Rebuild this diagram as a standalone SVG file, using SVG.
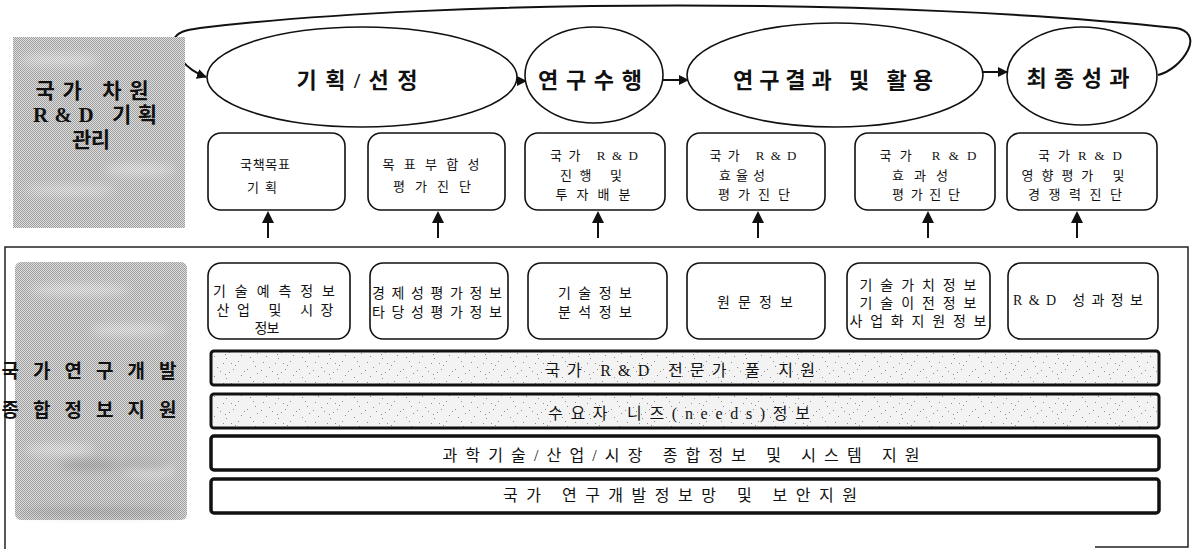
<svg xmlns="http://www.w3.org/2000/svg" width="1194" height="549" viewBox="0 0 1194 549">
<style>
.t{font-family:'Liberation Serif','Noto Sans CJK KR',serif;fill:#111;text-anchor:middle}
.title{font-size:22px;font-weight:bold}
.lab{font-size:21px;font-weight:bold}
.box{fill:#fff;stroke:#111;stroke-width:1.6}
.bt{font-size:13px}
.lt{font-size:14px}
.bar{font-size:16px}
.ell{fill:#fff;stroke:#111;stroke-width:1.6}
.con{fill:none;stroke:#111;stroke-width:2}
</style>
<defs>
<marker id="ah" viewBox="0 0 10 10" refX="9" refY="5" markerWidth="10" markerHeight="10" markerUnits="userSpaceOnUse" orient="auto">
<path d="M0,0 L10,5 L0,10 Z" fill="#111"/>
</marker>
<marker id="up" viewBox="0 0 12 12" refX="10" refY="6" markerWidth="12" markerHeight="12" markerUnits="userSpaceOnUse" orient="auto">
<path d="M0,0 L12,6 L0,12 Z" fill="#111"/>
</marker>
<pattern id="ht" width="2" height="2" patternUnits="userSpaceOnUse">
<rect width="2" height="2" fill="#dedede"/>
<rect width="1" height="1" fill="#9e9e9e"/>
<rect x="1" y="1" width="1" height="1" fill="#9e9e9e"/>
</pattern>
<pattern id="st" width="52" height="20" patternUnits="userSpaceOnUse">
<rect width="52" height="20" fill="#f3f3f3"/>
<g fill="#8c8c8c">
<rect x="3" y="2" width="1" height="1"/><rect x="9" y="7" width="1" height="1"/><rect x="15" y="3" width="1" height="1"/>
<rect x="21" y="12" width="1" height="1"/><rect x="27" y="5" width="1" height="1"/><rect x="33" y="15" width="1" height="1"/>
<rect x="39" y="9" width="1" height="1"/><rect x="45" y="1" width="1" height="1"/><rect x="49" y="13" width="1" height="1"/>
<rect x="6" y="16" width="1" height="1"/><rect x="12" y="11" width="1" height="1"/><rect x="18" y="18" width="1" height="1"/>
<rect x="25" y="9" width="1" height="1"/><rect x="30" y="1" width="1" height="1"/><rect x="36" y="11" width="1" height="1"/>
<rect x="42" y="17" width="1" height="1"/><rect x="47" y="6" width="1" height="1"/><rect x="1" y="10" width="1" height="1"/>
<rect x="17" y="14" width="1" height="1"/><rect x="23" y="3" width="1" height="1"/>
</g>
</pattern>
<filter id="bl" x="-20%" y="-50%" width="140%" height="200%"><feGaussianBlur stdDeviation="4"/></filter>
</defs>

<g id="connectors">
<path class="con" d="M174,40 C172,52 186,70 206,77" marker-end="url(#ah)"/>
<path class="con" d="M1158,75 C1170,72 1182,62 1188,50 C1194,38 1188,30 1176,28 C900,-2 450,-2 200,28 C186,30 176,32 174,40"/>
<path class="con" d="M493,81 L526,81" marker-end="url(#ah)"/>
<path class="con" d="M663,80 L688,80" marker-end="url(#ah)"/>
<path class="con" d="M983,72 L1007,72" marker-end="url(#ah)"/>
<path class="con" stroke-width="3" d="M268,238 L268,213" marker-end="url(#up)"/>
<path class="con" stroke-width="3" d="M438,238 L438,213" marker-end="url(#up)"/>
<path class="con" stroke-width="3" d="M598,238 L598,213" marker-end="url(#up)"/>
<path class="con" stroke-width="3" d="M758,238 L758,213" marker-end="url(#up)"/>
<path class="con" stroke-width="3" d="M928,238 L928,213" marker-end="url(#up)"/>
<path class="con" stroke-width="3" d="M1077,238 L1077,213" marker-end="url(#up)"/>
</g>

<g id="outer-frame">
<path d="M5,549 L5,247 L1188,247 L1188,547 L1095,547" fill="none" stroke="#222" stroke-width="1.5"/>
</g>

<g id="label-planning">
<rect x="13" y="37" width="172" height="191" fill="url(#ht)"/>
<g filter="url(#bl)" fill="#fff" opacity="0.35">
<ellipse cx="60" cy="60" rx="40" ry="6"/><ellipse cx="140" cy="170" rx="35" ry="6"/><ellipse cx="70" cy="190" rx="45" ry="5"/>
</g>
<text class="t lab" x="92" y="98" textLength="113" lengthAdjust="spacing">국가 차원</text>
<text class="t lab" x="95" y="122" textLength="124" lengthAdjust="spacing">R&amp;D 기획</text>
<text class="t lab" x="91" y="147" textLength="38" lengthAdjust="spacing">관리</text>
</g>

<g id="label-info">
<rect x="15" y="262" width="172" height="258" rx="6" fill="url(#ht)"/>
<g filter="url(#bl)" fill="#fff" opacity="0.35">
<ellipse cx="80" cy="290" rx="50" ry="6"/><ellipse cx="130" cy="330" rx="40" ry="6"/><ellipse cx="60" cy="450" rx="35" ry="6"/><ellipse cx="150" cy="470" rx="25" ry="8"/>
</g>
<g filter="url(#bl)" fill="#666" opacity="0.3">
<ellipse cx="90" cy="465" rx="30" ry="5"/><ellipse cx="145" cy="465" rx="25" ry="5"/><ellipse cx="100" cy="512" rx="80" ry="4"/>
</g>
<text class="t lab" style="font-size:19px" x="89" y="378" textLength="175" lengthAdjust="spacing">국가연구개발</text>
<text class="t lab" style="font-size:19px" x="89" y="417" textLength="175" lengthAdjust="spacing">종합정보지원</text>
</g>

<g id="stage-plan">
<ellipse class="ell" cx="362" cy="77" rx="155" ry="50"/>
<text class="t title" x="357" y="88" textLength="121" lengthAdjust="spacing">기획/선정</text>
</g>
<g id="stage-research">
<ellipse class="ell" cx="594" cy="75" rx="69" ry="48"/>
<text class="t title" x="590" y="88" textLength="104" lengthAdjust="spacing">연구수행</text>
</g>
<g id="stage-result">
<ellipse class="ell" cx="835" cy="75" rx="148" ry="52"/>
<text class="t title" x="833" y="88" textLength="200" lengthAdjust="spacing">연구결과 및 활용</text>
</g>
<g id="stage-final">
<ellipse class="ell" cx="1082" cy="76" rx="75" ry="49"/>
<text class="t title" x="1078" y="86" textLength="103" lengthAdjust="spacing">최종성과</text>
</g>

<g id="top-box-1">
<rect class="box" x="208" y="133" width="137" height="77" rx="13"/>
<text class="t bt" x="265" y="169" textLength="50" lengthAdjust="spacing">국책목표</text>
<text class="t bt" x="262" y="192" textLength="30" lengthAdjust="spacing">기획</text>
</g>
<g id="top-box-2">
<rect class="box" x="368" y="133" width="137" height="77" rx="13"/>
<text class="t bt" x="431" y="169" textLength="97" lengthAdjust="spacing">목표부합성</text>
<text class="t bt" x="432" y="191" textLength="78" lengthAdjust="spacing">평가진단</text>
</g>
<g id="top-box-3">
<rect class="box" x="525" y="133" width="140" height="77" rx="13"/>
<text class="t bt" x="594" y="160" textLength="88" lengthAdjust="spacing">국가 R&amp;D</text>
<text class="t bt" x="591" y="180" textLength="62" lengthAdjust="spacing">진행 및</text>
<text class="t bt" x="593" y="199" textLength="75" lengthAdjust="spacing">투자배분</text>
</g>
<g id="top-box-4">
<rect class="box" x="687" y="133" width="138" height="77" rx="13"/>
<text class="t bt" x="753" y="160" textLength="87" lengthAdjust="spacing">국가 R&amp;D</text>
<text class="t bt" x="742" y="180" textLength="46" lengthAdjust="spacing">효율성</text>
<text class="t bt" x="754" y="199" textLength="72" lengthAdjust="spacing">평가진단</text>
</g>
<g id="top-box-5">
<rect class="box" x="855" y="133" width="140" height="77" rx="13"/>
<text class="t bt" x="928" y="160" textLength="97" lengthAdjust="spacing">국가 R&amp;D</text>
<text class="t bt" x="920" y="180" textLength="56" lengthAdjust="spacing">효과성</text>
<text class="t bt" x="926" y="199" textLength="68" lengthAdjust="spacing">평가진단</text>
</g>
<g id="top-box-6">
<rect class="box" x="1007" y="133" width="150" height="77" rx="13"/>
<text class="t bt" x="1080" y="160" textLength="84" lengthAdjust="spacing">국가R&amp;D</text>
<text class="t bt" x="1073" y="180" textLength="103" lengthAdjust="spacing">영향평가 및</text>
<text class="t bt" x="1075" y="199" textLength="94" lengthAdjust="spacing">경쟁력진단</text>
</g>

<g id="info-box-1">
<rect class="box" x="208" y="263" width="142" height="76" rx="13"/>
<text class="t lt" x="274" y="296" textLength="122" lengthAdjust="spacing">기술예측정보</text>
<text class="t lt" x="275" y="315" textLength="117" lengthAdjust="spacing">산업 및 시장</text>
<text class="t lt" x="267" y="333" textLength="25" lengthAdjust="spacing">정보</text>
</g>
<g id="info-box-2">
<rect class="box" x="370" y="263" width="138" height="76" rx="13"/>
<text class="t lt" x="437" y="298" textLength="130" lengthAdjust="spacing">경제성평가정보</text>
<text class="t lt" x="437" y="317" textLength="130" lengthAdjust="spacing">타당성평가정보</text>
</g>
<g id="info-box-3">
<rect class="box" x="528" y="263" width="139" height="76" rx="13"/>
<text class="t lt" x="595" y="298" textLength="74" lengthAdjust="spacing">기술정보</text>
<text class="t lt" x="595" y="317" textLength="74" lengthAdjust="spacing">분석정보</text>
</g>
<g id="info-box-4">
<rect class="box" x="687" y="263" width="138" height="76" rx="13"/>
<text class="t lt" x="755" y="307" textLength="76" lengthAdjust="spacing">원문정보</text>
</g>
<g id="info-box-5">
<rect class="box" x="847" y="263" width="143" height="76" rx="13"/>
<text class="t lt" x="918" y="290" textLength="117" lengthAdjust="spacing">기술가치정보</text>
<text class="t lt" x="918" y="308" textLength="117" lengthAdjust="spacing">기술이전정보</text>
<text class="t lt" x="918" y="326" textLength="137" lengthAdjust="spacing">사업화지원정보</text>
</g>
<g id="info-box-6">
<rect class="box" x="1008" y="263" width="150" height="76" rx="13"/>
<text class="t lt" x="1078" y="305" textLength="130" lengthAdjust="spacing">R&amp;D 성과정보</text>
</g>

<g id="bar-expert">
<rect x="211" y="351" width="948" height="34" rx="3" fill="url(#st)" stroke="#111" stroke-width="3"/>
<text class="t bar" x="680" y="376" textLength="270" lengthAdjust="spacing">국가 R&amp;D 전문가 풀 지원</text>
</g>
<g id="bar-needs">
<rect x="211" y="394" width="948" height="34" rx="3" fill="url(#st)" stroke="#111" stroke-width="3"/>
<text class="t bar" x="679" y="419" textLength="262" lengthAdjust="spacing">수요자 니즈(needs)정보</text>
</g>
<g id="bar-system">
<rect x="211" y="436" width="948" height="34" rx="3" fill="#fff" stroke="#111" stroke-width="3.5"/>
<text class="t bar" x="681" y="461" textLength="477" lengthAdjust="spacing">과학기술/산업/시장 종합정보 및 시스템 지원</text>
</g>
<g id="bar-network">
<rect x="211" y="479" width="948" height="34" rx="3" fill="#fff" stroke="#111" stroke-width="3.5"/>
<text class="t bar" x="680" y="501" textLength="354" lengthAdjust="spacing">국가 연구개발정보망 및 보안지원</text>
</g>
</svg>
